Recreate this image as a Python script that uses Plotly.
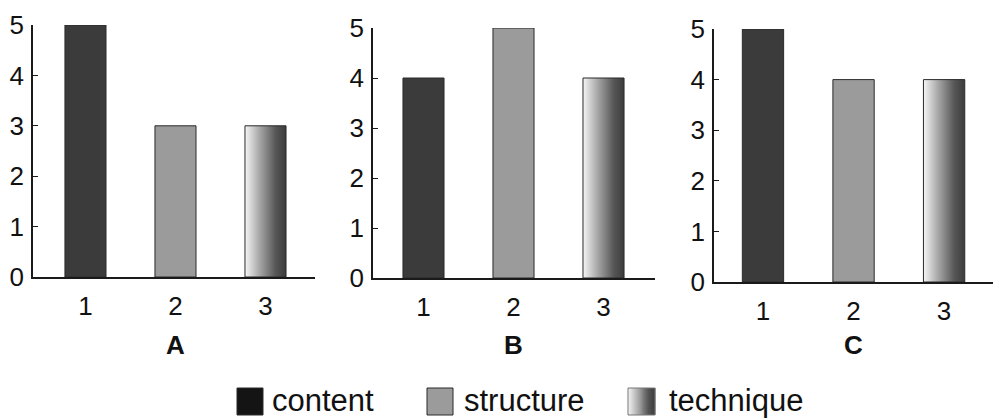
import plotly.graph_objects as go

# ---- data ----
panels = ["A", "B", "C"]
categories = [1, 2, 3]
series_names = ["content", "structure", "technique"]
values_A = [5, 3, 3]
values_B = [4, 5, 4]
values_C = [5, 4, 4]
y_ticks = [0, 1, 2, 3, 4, 5]
values = {"A": values_A, "B": values_B, "C": values_C}

# ---- styles / layout ----
BAR_W = 0.456
FONT = "Liberation Sans, Arial, Helvetica, sans-serif"
EDGE = "#2a2a2a"
AXIS = "#1a1a1a"
CONTENT_C = "#3b3b3b"
STRUCT_C = "#9b9b9b"
TECH_SCALE = [[0, "#f6f6f6"], [0.35, "#a8a8a8"], [0.75, "#565656"], [1, "#3c3c3c"]]

W, H = 1005, 419
OFF = 8  # page body offset in the screenshot


def px_x(p):
    return (p - OFF) / W


def px_y(p):
    return 1 - (p - OFF) / H


x_dom_px = [(33, 315), (373, 655), (714, 993)]
y_dom_px = [(25, 277), (28, 278), (29, 282)]
x_ranges = [[0.417, 3.55], [0.439, 3.572], [0.459, 3.54]]

fig = go.Figure()

for k, p in enumerate(panels):
    xa = "x" if k == 0 else f"x{k+1}"
    ya = "y" if k == 0 else f"y{k+1}"
    vals = values[p]
    fig.add_trace(go.Bar(
        x=[categories[0]], y=[vals[0]], width=BAR_W, name=series_names[0],
        marker=dict(color=CONTENT_C, line=dict(color=EDGE, width=1)),
        xaxis=xa, yaxis=ya, showlegend=False,
    ))
    fig.add_trace(go.Bar(
        x=[categories[1]], y=[vals[1]], width=BAR_W, name=series_names[1],
        marker=dict(color=STRUCT_C, line=dict(color=EDGE, width=1)),
        xaxis=xa, yaxis=ya, showlegend=False,
    ))
    c, v = categories[2], vals[2]
    fig.add_trace(go.Scatter(
        x=[c - BAR_W / 2, c - BAR_W / 2, c + BAR_W / 2, c + BAR_W / 2, c - BAR_W / 2],
        y=[0, v, v, 0, 0],
        mode="lines", fill="toself", name=series_names[2],
        fillgradient=dict(type="horizontal", colorscale=TECH_SCALE),
        line=dict(color=EDGE, width=1),
        xaxis=xa, yaxis=ya, showlegend=False, hoverinfo="skip",
    ))

layout = dict(
    template="none",
    width=W, height=H,
    margin=dict(l=0, r=0, t=0, b=0, autoexpand=False),
    paper_bgcolor="white", plot_bgcolor="white",
    font=dict(family=FONT, size=26, color="#111"),
    barmode="overlay",
    showlegend=False,
)
for k, p in enumerate(panels):
    sx = "" if k == 0 else str(k + 1)
    layout[f"xaxis{sx}"] = dict(
        domain=[px_x(x_dom_px[k][0]), px_x(x_dom_px[k][1])],
        range=x_ranges[k], anchor=f"y{sx}",
        tickvals=categories, ticktext=[str(c) for c in categories],
        showline=True, linecolor=AXIS, linewidth=1.5, ticks="", showgrid=False,
        zeroline=False, tickfont=dict(size=26, family=FONT), ticklabelstandoff=5,
        automargin=False, fixedrange=True,
    )
    layout[f"yaxis{sx}"] = dict(
        domain=[px_y(y_dom_px[k][1]), px_y(y_dom_px[k][0])],
        range=[0, 5], anchor=f"x{sx}",
        tickvals=y_ticks, showline=True, linecolor=AXIS, linewidth=1.5,
        ticks="inside", ticklen=5, tickcolor=AXIS, tickwidth=1.2,
        showgrid=False, zeroline=False,
        tickfont=dict(size=26, family=FONT), ticklabelstandoff=2,
        automargin=False, fixedrange=True,
    )
fig.update_layout(**layout)

# panel titles
for k, p in enumerate(panels):
    fig.add_annotation(
        text=f"<b>{p}</b>", xref=("x" if k == 0 else f"x{k+1}"), yref="paper",
        x=categories[1], y=px_y(345), showarrow=False,
        font=dict(size=26, family=FONT, color="#111"),
        xanchor="center", yanchor="middle",
    )


# ---- legend (drawn manually so swatches match the reference size) ----
def interp_color(t):
    def hx(s):
        return [int(s[i:i + 2], 16) for i in (1, 3, 5)]
    for (a, ca), (b, cb) in zip(TECH_SCALE[:-1], TECH_SCALE[1:]):
        if a <= t <= b:
            f = (t - a) / (b - a) if b > a else 0
            c1, c2 = hx(ca), hx(cb)
            return "rgb(%d,%d,%d)" % tuple(round(c1[i] + (c2[i] - c1[i]) * f) for i in range(3))
    return TECH_SCALE[-1][1]


leg_sw_px = [(237, 263), (427, 453), (628, 655)]
leg_txt_px = [270, 462, 667]
leg_y_px = (388, 415)
leg_fill = ["#141414", "#9b9b9b", None]

for i, name in enumerate(series_names):
    x0, x1 = leg_sw_px[i]
    y0, y1 = leg_y_px
    if leg_fill[i] is not None:
        fig.add_shape(type="rect", xref="paper", yref="paper",
                      x0=px_x(x0), x1=px_x(x1), y0=px_y(y1), y1=px_y(y0),
                      fillcolor=leg_fill[i], line=dict(color=EDGE, width=1))
    else:
        n = 26
        for j in range(n):
            t = (j + 0.5) / n
            a = x0 + (x1 - x0) * j / n
            b = x0 + (x1 - x0) * (j + 1) / n
            fig.add_shape(type="rect", xref="paper", yref="paper",
                          x0=px_x(a), x1=px_x(b) + 0.0004, y0=px_y(y1), y1=px_y(y0),
                          fillcolor=interp_color(t), line=dict(width=0))
        fig.add_shape(type="rect", xref="paper", yref="paper",
                      x0=px_x(x0), x1=px_x(x1), y0=px_y(y1), y1=px_y(y0),
                      fillcolor="rgba(0,0,0,0)", line=dict(color="#777", width=1))
    fig.add_annotation(
        text=name, xref="paper", yref="paper",
        x=px_x(leg_txt_px[i]), y=px_y(400), showarrow=False,
        xanchor="left", yanchor="middle",
        font=dict(size=31, family=FONT, color="#111"),
    )

fig.write_html("out.html")
